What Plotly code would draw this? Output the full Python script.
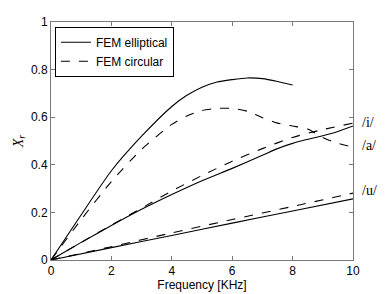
import plotly.graph_objects as go

# Elliptical /i/ (solid, top curve)
freq_ell_i = [0, 1, 2, 3, 4, 4.5, 5, 5.5, 6, 6.5, 7, 7.5, 8]
xr_ell_i = [0, 0.19, 0.375, 0.52, 0.645, 0.692, 0.726, 0.748, 0.758, 0.765, 0.762, 0.75, 0.735]

# Circular /i/ (dashed)
freq_cir_i = [0, 1, 2, 3, 4, 4.5, 5, 5.5, 6, 6.5, 7, 7.5, 8, 8.5, 9, 9.5, 10]
xr_cir_i = [0, 0.17, 0.33, 0.465, 0.57, 0.605, 0.628, 0.637, 0.637, 0.625, 0.598, 0.575, 0.563, 0.55, 0.515, 0.49, 0.475]

# Elliptical /a/ (solid)
freq_ell_a = [0, 1, 2, 3, 4, 5, 6, 7, 7.5, 8, 8.5, 9, 9.5, 10]
xr_ell_a = [0, 0.074, 0.145, 0.213, 0.275, 0.333, 0.385, 0.44, 0.468, 0.49, 0.507, 0.522, 0.54, 0.563]

# Circular /a/ (dashed)
freq_cir_a = [0, 1, 2, 3, 4, 5, 6, 7, 8, 9, 10]
xr_cir_a = [0, 0.074, 0.147, 0.218, 0.29, 0.355, 0.415, 0.468, 0.515, 0.548, 0.575]

# Elliptical /u/ (solid)
freq_ell_u = [0, 2, 4, 6, 8, 10]
xr_ell_u = [0, 0.052, 0.103, 0.155, 0.206, 0.257]

# Circular /u/ (dashed)
freq_cir_u = [0, 2, 4, 6, 8, 10]
xr_cir_u = [0, 0.056, 0.114, 0.17, 0.225, 0.281]

vowel_labels = ["/i/", "/a/", "/u/"]
vowel_label_y = [0.578, 0.482, 0.29]

x_ticks = [0, 2, 4, 6, 8, 10]
y_ticks = [0, 0.2, 0.4, 0.6, 0.8, 1]

sans = "Liberation Sans, Arial, sans-serif"
serif = "Liberation Serif, DejaVu Serif, serif"

fig = go.Figure()
series = [
    (freq_ell_i, xr_ell_i, "solid", "FEM elliptical", True),
    (freq_cir_i, xr_cir_i, "dash", "FEM circular", True),
    (freq_ell_a, xr_ell_a, "solid", "FEM elliptical", False),
    (freq_cir_a, xr_cir_a, "dash", "FEM circular", False),
    (freq_ell_u, xr_ell_u, "solid", "FEM elliptical", False),
    (freq_cir_u, xr_cir_u, "dash", "FEM circular", False),
]
for xs, ys, dash, name, show in series:
    fig.add_trace(go.Scatter(
        x=xs, y=ys, mode="lines", name=name, showlegend=show,
        legendgroup=name,
        line=dict(color="black", width=1.1, dash=dash, shape="spline", smoothing=0.6),
    ))

for lab, yv in zip(vowel_labels, vowel_label_y):
    fig.add_annotation(x=1.0, y=yv, xref="paper", yref="y", text=lab, showarrow=False,
                       xanchor="left", yanchor="middle", xshift=7,
                       font=dict(family=serif, size=14, color="black"))

axis_common = dict(
    showline=True, linecolor="#7a7a7a", linewidth=1, mirror="ticks",
    ticks="inside", ticklen=4, tickcolor="#7a7a7a", showgrid=False, zeroline=False,
    tickfont=dict(family=sans, size=12, color="black"), automargin=False,
)
fig.update_xaxes(range=[0, 10], tickvals=x_ticks, ticktext=[str(v) for v in x_ticks],
                 title=dict(text="Frequency [KHz]", font=dict(family=sans, size=12, color="black"), standoff=2),
                 **axis_common)
fig.update_yaxes(range=[0, 1], tickvals=y_ticks, ticktext=["0", "0.2", "0.4", "0.6", "0.8", "1"],
                 title=dict(text="<i>X<sub>r</sub></i>", font=dict(family=serif, size=14, color="black"), standoff=4),
                 **axis_common)

fig.update_layout(
    width=391, height=294,
    margin=dict(l=51, r=38, t=22, b=34),
    plot_bgcolor="white", paper_bgcolor="white",
    legend=dict(x=0.013, y=0.98, xanchor="left", yanchor="top",
                bgcolor="white", bordercolor="black", borderwidth=1,
                font=dict(family=sans, size=12, color="black"),
                tracegroupgap=0, itemwidth=30),
)
fig.write_html("out.html", config={"displayModeBar": False},
               post_script="document.body.style.margin='0px';document.body.style.padding='0px';")
